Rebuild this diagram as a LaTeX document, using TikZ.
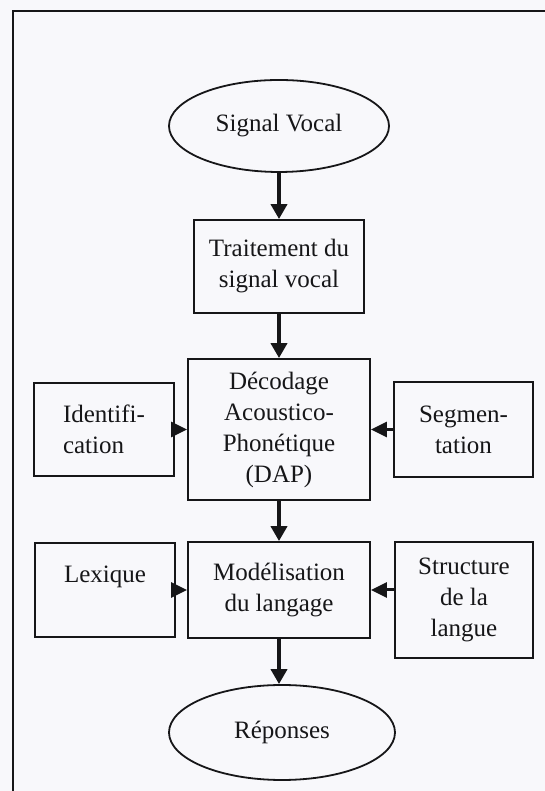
\documentclass[tikz,border=0pt]{standalone}
\usepackage{fontspec}
\setmainfont{Liberation Serif}
\usetikzlibrary{positioning,shapes.geometric,arrows.meta}

\definecolor{paper}{RGB}{248,248,251}
\definecolor{ink}{RGB}{22,22,24}

\tikzset{
  bloc/.style={draw=ink,line width=1.8pt,rectangle,align=center,inner sep=0pt,
    text=ink,font=\fontsize{25}{31}\selectfont},
  bout/.style={bloc,ellipse},
  fleche/.style={-{Triangle[width=16pt,length=15pt]},line width=4.5pt,draw=ink},
  flechette/.style={-{Triangle[width=15pt,length=16pt]},line width=3pt,draw=ink},
}

\begin{document}
\begin{tikzpicture}[x=1pt,y=1pt,node distance=3cm,on grid]
  \useasboundingbox[fill=paper] (0,0) rectangle (545,791);
  % cadre
  \draw[ink,line width=2pt] (12.5,780) rectangle (580,-20);

  % chaine principale
  \node[bout,minimum width=220pt,minimum height=92pt] (sig) at (279,665) {Signal Vocal};
  \node[bloc,minimum width=170pt,minimum height=93pt] (trait) [below=140.5pt of sig] {Traitement du\\signal vocal};
  \node[bloc,minimum width=182pt,minimum height=141pt] (dap) [below=163pt of trait] {D\'ecodage\\Acoustico-\\Phon\'etique\\(DAP)};
  \node[bloc,minimum width=182pt,minimum height=96pt] (mod) [below=160.5pt of dap] {Mod\'elisation\\du langage};
  \node[bout,minimum width=226pt,minimum height=95pt] (rep) [below=142.5pt of mod,xshift=3pt] {R\'eponses};

  % blocs lateraux
  \node[bloc,align=left,minimum width=140pt,minimum height=93pt] (ident) [left=175pt of dap] {Identifi-\\cation};
  \node[bloc,minimum width=139pt,minimum height=95pt] (seg) [right=184.5pt of dap] {Segmen-\\tation};
  \node[bloc,minimum width=140pt,minimum height=94pt] (lex) [left=174pt of mod] {Lexique\\\mbox{}};
  \node[bloc,minimum width=138pt,minimum height=116pt] (struct) [right=185pt of mod,yshift=-10pt] {Structure\\de la\\langue};

  \draw[fleche] (sig) -- (trait);
  \draw[fleche] (trait) -- (dap);
  \draw[fleche] (dap) -- (mod);
  \draw[fleche] (mod.south) -- (mod.south |- rep.north);

  \draw[flechette] (ident) -- (dap);
  \draw[flechette] (seg) -- (dap);
  \draw[flechette] (lex) -- (mod);
  \draw[flechette] (struct.west |- mod.east) -- (mod.east);
\end{tikzpicture}
\end{document}
